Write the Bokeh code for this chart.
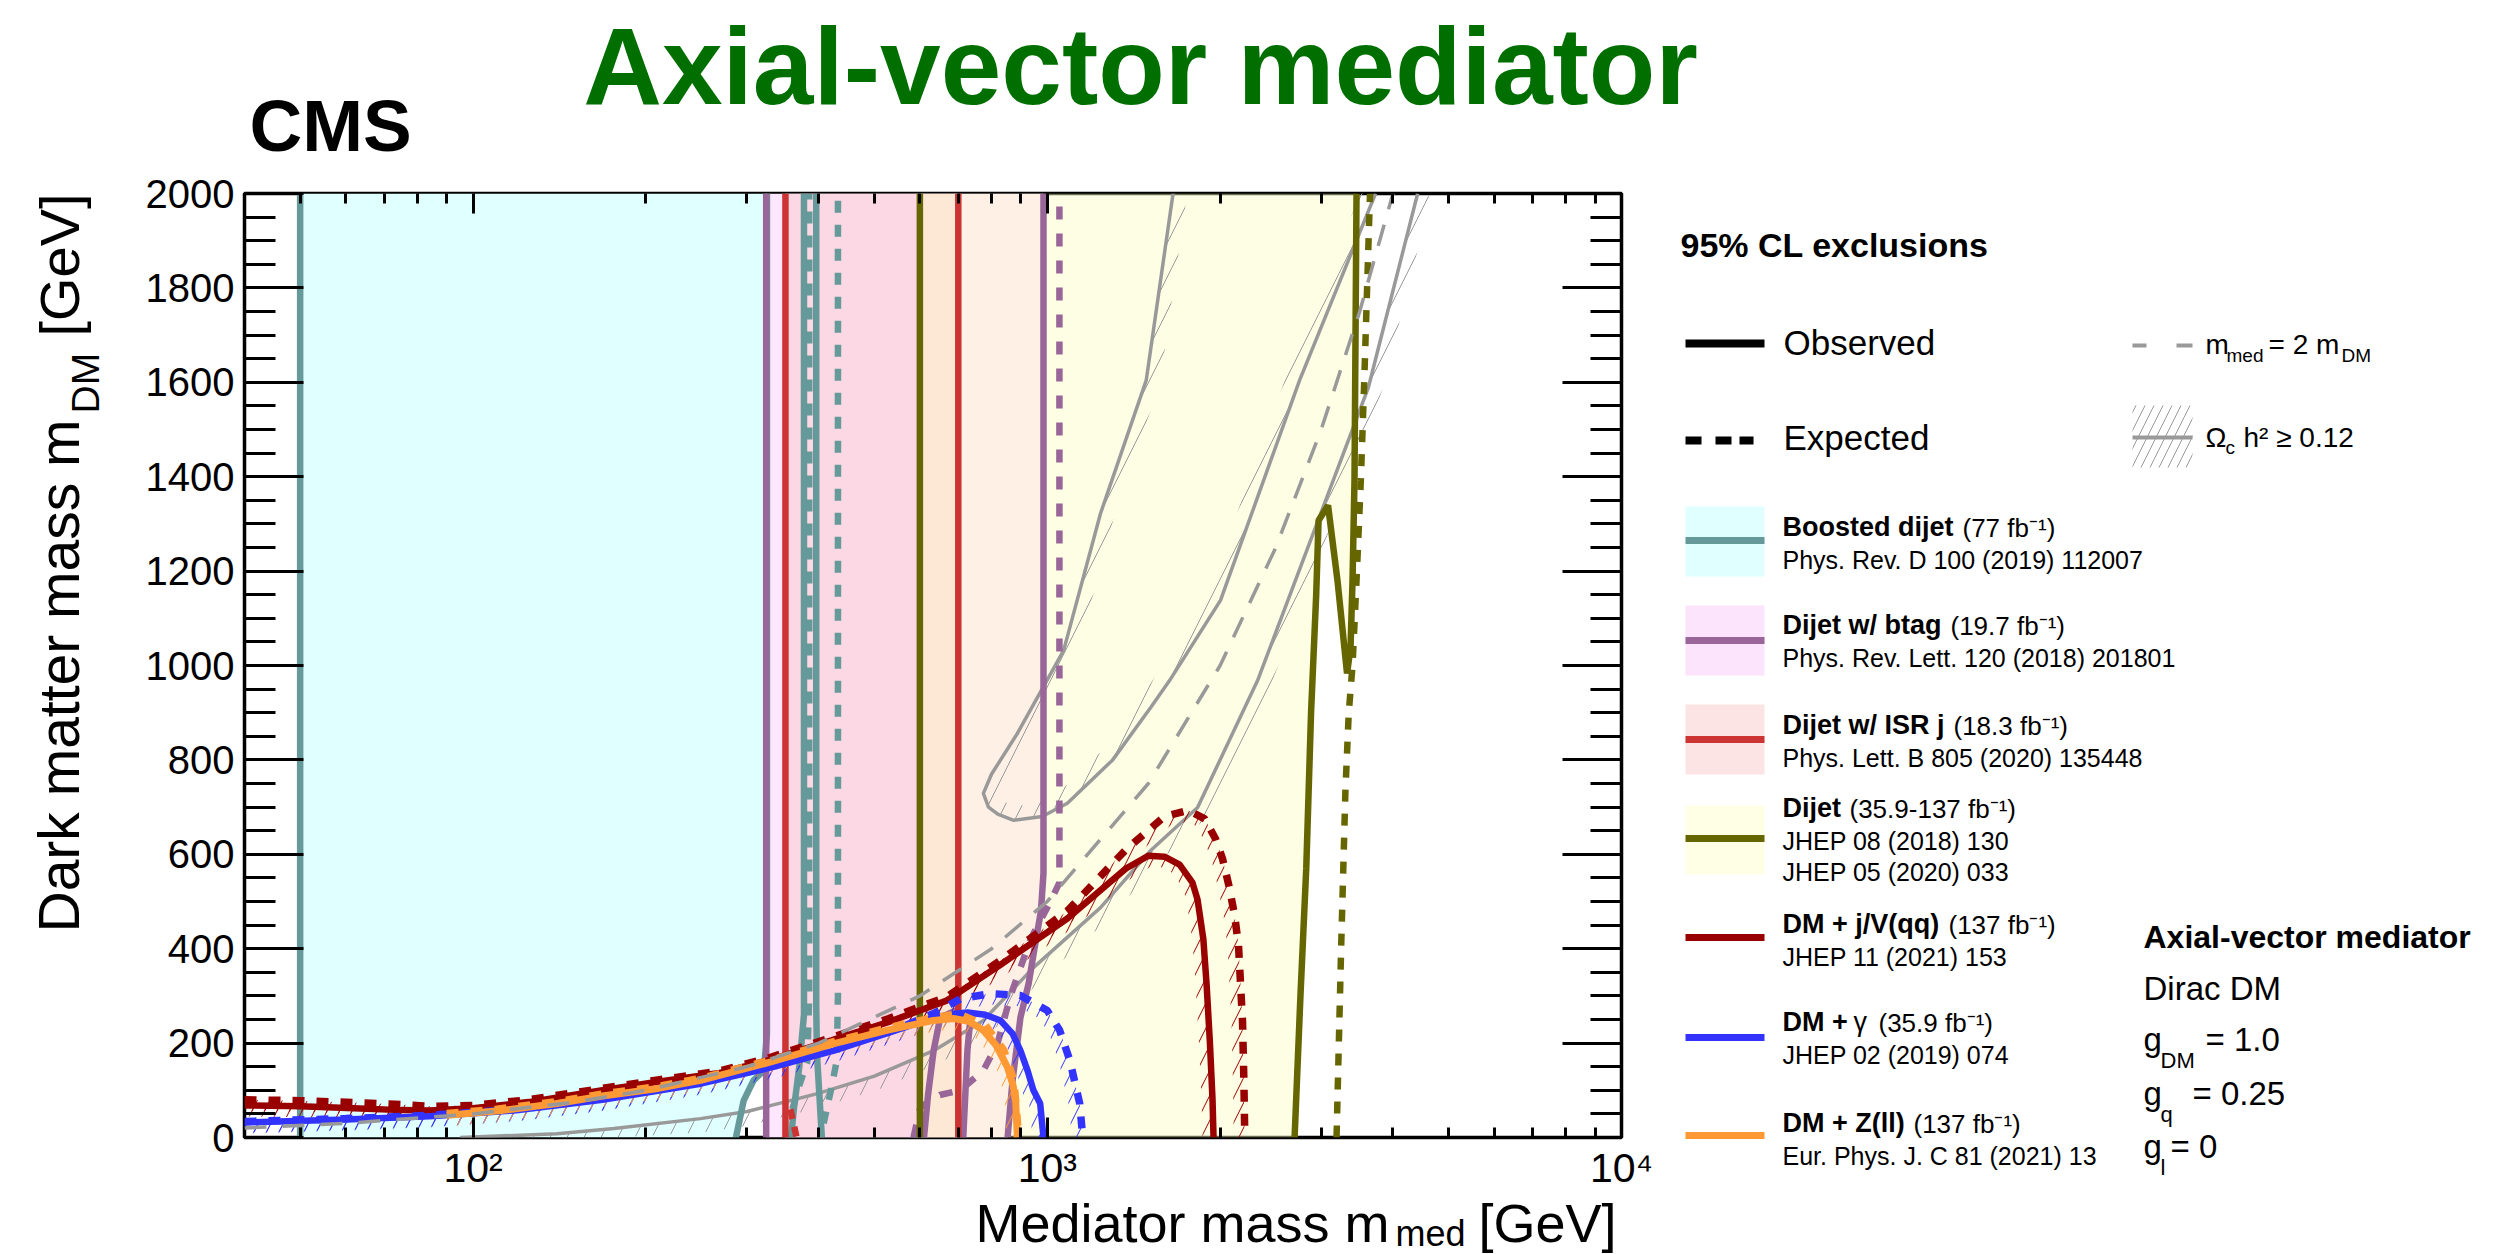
import numpy as np
from bokeh.plotting import figure
from bokeh.layouts import row, column
from bokeh.models import FixedTicker, LinearAxis, LogAxis, Range1d
from bokeh.core.properties import value
from bokeh.embed import file_html
from bokeh.resources import INLINE

# ---------------------------------------------------------------
# Axis ranges (GeV)
# ---------------------------------------------------------------
X_RANGE = (40, 10000)
Y_RANGE = (0, 2000)

# ---------------------------------------------------------------
# Boosted dijet (77 fb-1)
# ---------------------------------------------------------------
bd_obs_a_x = [50, 50]
bd_obs_a_y = [0, 2000]
bd_obs_b_x = [287, 296, 308, 321, 325, 325]
bd_obs_b_y = [0, 78, 121, 142, 220, 2000]
bd_obs_c_x = [358, 362, 370, 377, 377]
bd_obs_c_y = [0, 60, 150, 260, 2000]
bd_obs_d_x = [405, 401, 397, 396, 396]
bd_obs_d_y = [0, 90, 180, 280, 2000]
bd_exp_a_x = [360, 370, 382, 385, 385]
bd_exp_a_y = [60, 110, 160, 300, 2000]
bd_exp_b_x = [408, 420, 430, 432, 432]
bd_exp_b_y = [30, 100, 163, 300, 2000]

# ---------------------------------------------------------------
# Dijet w/ btag (19.7 fb-1)
# ---------------------------------------------------------------
bt_obs_left_x = [324, 324]
bt_obs_left_y = [0, 2000]
bt_obs_right_x = [985, 985, 975, 950, 928, 898, 870, 853]
bt_obs_right_y = [2000, 560, 480, 400, 326, 254, 120, 0]
bt_obs_arch_x = [610, 620, 634, 651, 690, 735, 726, 714]
bt_obs_arch_y = [0, 90, 184, 254, 268, 254, 184, 0]
bt_exp_x = [585, 601, 650, 706, 774, 819, 863, 935, 1013, 1050, 1050]
bt_exp_y = [0, 64, 90, 100, 142, 199, 300, 420, 500, 540, 2000]

# ---------------------------------------------------------------
# Dijet w/ ISR j (18.3 fb-1)
# ---------------------------------------------------------------
isr_obs_lo_x = [350, 350]
isr_obs_hi_x = [700, 700]
isr_obs_y = [0, 2000]
isr_exp_x = [357, 366]
isr_exp_y = [60, 0]

# ---------------------------------------------------------------
# Dijet (35.9-137 fb-1)
# ---------------------------------------------------------------
dj_obs_left_x = [600, 600]
dj_obs_left_y = [0, 2000]
dj_obs_right_x = [2696, 2760, 2825, 2880, 2940, 2968, 3083, 3202, 3327, 3374, 3401, 3428, 3456]
dj_obs_right_y = [0, 300, 570, 900, 1150, 1307, 1339, 1180, 983, 1038, 1180, 1392, 2000]
dj_exp_right_x = [3190, 3250, 3305, 3350, 3401, 3456, 3516, 3565, 3648]
dj_exp_right_y = [0, 407, 733, 900, 1000, 1180, 1392, 1604, 2000]

# ---------------------------------------------------------------
# DM + j/V(qq) (137 fb-1)
# ---------------------------------------------------------------
dmj_obs_x = [40, 50, 62, 75, 84, 100, 125, 168, 210, 267, 330, 421, 530, 668, 829, 1084,
             1371, 1500, 1600, 1700, 1790, 1827, 1870, 1894, 1920, 1940, 1948]
dmj_obs_y = [68, 66, 62, 58, 57, 62, 75, 100, 118, 136, 165, 206, 245, 290, 366, 464,
             570, 597, 595, 578, 540, 504, 420, 326, 200, 80, 0]
dmj_exp_x = [40, 50, 62, 75, 84, 100, 125, 168, 210, 267, 330, 421, 530, 668, 829, 1084,
             1371, 1600, 1762, 1880, 1963, 2020, 2075, 2120, 2153, 2188, 2200, 2208]
dmj_exp_y = [80, 78, 74, 70, 66, 68, 80, 104, 122, 140, 170, 212, 252, 298, 375, 480,
             610, 680, 693, 675, 633, 590, 530, 470, 407, 246, 120, 0]

# ---------------------------------------------------------------
# DM + gamma (35.9 fb-1)
# ---------------------------------------------------------------
dmg_obs_x = [40, 60, 84, 120, 168, 249, 335, 425, 530, 634, 690, 726, 780, 829, 870, 898,
             925, 946, 972, 985]
dmg_obs_y = [32, 38, 45, 58, 80, 114, 150, 184, 222, 254, 262, 265, 260, 248, 220, 184,
             140, 100, 72, 0]
dmg_exp_x = [40, 60, 84, 120, 168, 249, 335, 425, 556, 640, 706, 796, 898, 1000, 1051,
             1095, 1139, 1153]
dmg_exp_y = [34, 40, 47, 60, 82, 117, 154, 190, 233, 265, 294, 305, 301, 269, 227,
             163, 72, 0]

# ---------------------------------------------------------------
# DM + Z(ll) (137 fb-1)
# ---------------------------------------------------------------
dmz_obs_x = [90, 110, 140, 168, 210, 249, 330, 425, 530, 634, 687, 730, 774, 815, 853,
             872, 881, 887]
dmz_obs_y = [47, 56, 72, 88, 104, 121, 160, 199, 228, 248, 252, 246, 227, 195, 148,
             110, 78, 0]
dmz_exp_x = [90, 110, 140, 168, 210, 249, 330, 425, 530, 634, 700, 780, 840, 875, 892]
dmz_exp_y = [51, 60, 76, 92, 108, 125, 164, 203, 233, 254, 262, 238, 185, 120, 0]

# ---------------------------------------------------------------
# Relic density contours (Omega_c h^2 = 0.12)
# ---------------------------------------------------------------
relic_low_x = [95, 140, 176, 249, 300, 398, 500, 634, 774, 946, 1238, 1514, 1827, 2324,
               3626, 4416]
relic_low_y = [0, 8, 19, 40, 55, 93, 130, 184, 248, 360, 487, 608, 699, 968, 1590, 2000]
relic_loop_x = [1656, 1487, 1238, 1068, 887, 800, 774, 790, 820, 874, 980, 1084, 1300,
                1514, 1633, 2003, 2750, 3730]
relic_loop_y = [2000, 1604, 1322, 1032, 856, 770, 729, 700, 685, 672, 680, 708, 800,
                911, 968, 1138, 1604, 2000]

# m_med = 2 m_DM reference line
diag_mmed = [40, 60, 100, 150, 200, 300, 400, 600, 800, 1000, 1500, 2000, 2500, 3000,
             3500, 4000]
diag_mdm = [m / 2.0 for m in diag_mmed]

# ---------------------------------------------------------------
# Colours
# ---------------------------------------------------------------
TEAL = "#669999"
PURPLE = "#996699"
RED = "#cc3333"
OLIVE = "#666600"
DARKRED = "#990000"
BLUE = "#3333ff"
ORANGE = "#ff9933"
GREY = "#999999"

FILL_CYAN = "#e0ffff"
FILL_LAV = "#ffe6ff"
FILL_PINK = "#fcd8e4"
FILL_YEL = "#fdfdc2"
FONT = "Liberation Sans"

# ---------------------------------------------------------------
# Page geometry (canvas pixels)
# ---------------------------------------------------------------
PAGE_W, PAGE_H = 2500, 1254
TH = 170                  # headline strip
LW = 140                  # strip holding the vertical axis title
FL, FT = 244, 193         # frame position on the page
FRAME_W, FRAME_H = 1377, 944
M_TOP = FT - TH
M_LEFT = FL - LW
M_RIGHT = 33
M_BOTTOM = 55
M_W = M_LEFT + FRAME_W + M_RIGHT
M_H = M_TOP + FRAME_H + M_BOTTOM
MID_H = PAGE_H - TH
B_Y0 = TH + M_H
B_H = PAGE_H - B_Y0
R_X0 = LW + M_W
R_W = PAGE_W - R_X0

# ---------------------------------------------------------------
# Main plot
# ---------------------------------------------------------------
p = figure(x_axis_type="log", x_range=X_RANGE, y_range=Y_RANGE,
           frame_width=FRAME_W, frame_height=FRAME_H,
           min_border_left=M_LEFT, min_border_right=M_RIGHT,
           min_border_top=M_TOP, min_border_bottom=M_BOTTOM,
           output_backend="svg", toolbar_location=None)
p.frame_align = False
p.title.visible = False
p.xgrid.visible = False
p.ygrid.visible = False
p.background_fill_color = "white"
p.border_fill_color = "white"
p.outline_line_color = "black"
p.outline_line_width = 3.5

x_major = [100, 1000, 10000]
x_minor = [50, 60, 70, 80, 90] + [k * 100 for k in range(2, 10)] + [k * 1000 for k in range(2, 10)]
y_major = list(range(0, 2001, 200))
y_minor = [v for v in range(0, 2001, 50) if v % 200]


def style_axis(ax, major_len, minor_len):
    ax.axis_line_color = None
    ax.major_tick_in = major_len
    ax.major_tick_out = 0
    ax.minor_tick_in = minor_len
    ax.minor_tick_out = 0
    ax.major_tick_line_width = 3
    ax.minor_tick_line_width = 3
    ax.major_tick_line_color = "black"
    ax.minor_tick_line_color = "black"
    ax.major_label_text_font = FONT
    ax.major_label_text_color = "black"


def hide_labels(ax):
    ax.major_label_text_font_size = "1px"
    ax.major_label_text_alpha = 0
    ax.major_label_standoff = 0


xa = p.xaxis[0]
xa.ticker = FixedTicker(ticks=x_major, minor_ticks=x_minor)
style_axis(xa, 20, 10)
xa.major_label_overrides = {100: "10\u00b2", 1000: "10\u00b3", 10000: "10\u2074"}
xa.major_label_text_font_size = "41px"
xa.major_label_standoff = 7

ya = p.yaxis[0]
ya.ticker = FixedTicker(ticks=y_major, minor_ticks=y_minor)
style_axis(ya, 59, 31)
ya.major_label_text_font_size = "40px"
ya.major_label_standoff = 10

xt = LogAxis(ticker=FixedTicker(ticks=x_major, minor_ticks=x_minor))
style_axis(xt, 20, 10)
hide_labels(xt)
p.add_layout(xt, "above")

yr = LinearAxis(ticker=FixedTicker(ticks=y_major, minor_ticks=y_minor))
style_axis(yr, 59, 31)
hide_labels(yr)
p.add_layout(yr, "right")

# ---------------------------------------------------------------
# Thin band along one side of a contour, used for hatching
# ---------------------------------------------------------------
PX_DEC = FRAME_W / (np.log10(X_RANGE[1]) - np.log10(X_RANGE[0]))
PX_GEV = FRAME_H / (Y_RANGE[1] - Y_RANGE[0])


def hatch_band(xs, ys, side=1, width=12.0):
    u = np.log10(np.asarray(xs, float)) * PX_DEC
    v = np.asarray(ys, float) * PX_GEV
    tu = np.gradient(u)
    tv = np.gradient(v)
    n = np.hypot(tu, tv)
    n[n == 0] = 1.0
    nu, nv = tv / n, -tu / n
    u2 = u + side * width * nu
    v2 = np.clip(v + side * width * nv, 0, None)
    bx = np.concatenate([10 ** (u / PX_DEC), (10 ** (u2 / PX_DEC))[::-1]])
    by = np.concatenate([v / PX_GEV, (v2 / PX_GEV)[::-1]])
    return bx, by


def hatched(xs, ys, color, side=1, width=12.0, scale=25, weight=1.0):
    bx, by = hatch_band(xs, ys, side, width)
    p.patch(bx, by, fill_alpha=0, line_alpha=0, hatch_pattern="/",
            hatch_color=color, hatch_scale=scale, hatch_weight=weight)


# ---------------------------------------------------------------
# Excluded regions (filled)
# ---------------------------------------------------------------
p.patch(bd_obs_a_x + bd_obs_b_x[::-1], bd_obs_a_y + bd_obs_b_y[::-1],
        fill_color=FILL_CYAN, line_color=None)
p.patch(bt_obs_left_x + bt_obs_right_x, bt_obs_left_y + bt_obs_right_y,
        fill_color=FILL_LAV, line_color=None)
p.patch(isr_obs_lo_x + isr_obs_hi_x, isr_obs_y + isr_obs_y[::-1],
        fill_color=FILL_PINK, line_color=None)
p.patch(dj_obs_left_x + dj_obs_right_x[::-1], dj_obs_left_y + dj_obs_right_y[::-1],
        fill_color=FILL_YEL, fill_alpha=0.44, line_color=None)

# ---------------------------------------------------------------
# Relic density lines with hatching
# ---------------------------------------------------------------
hatched(relic_low_x, relic_low_y, GREY, side=1, width=14, scale=34)
hatched(relic_loop_x, relic_loop_y, GREY, side=-1, width=14, scale=34)
p.line(relic_low_x, relic_low_y, line_color=GREY, line_width=3.5)
p.line(relic_loop_x, relic_loop_y, line_color=GREY, line_width=3.5)

# ---------------------------------------------------------------
# Resonance searches
# ---------------------------------------------------------------
W = 6.5
DASH = "12 12"
for xs, ys in [(bd_obs_a_x, bd_obs_a_y), (bd_obs_b_x, bd_obs_b_y),
               (bd_obs_c_x, bd_obs_c_y), (bd_obs_d_x, bd_obs_d_y)]:
    p.line(xs, ys, line_color=TEAL, line_width=W)
for xs, ys in [(bd_exp_a_x, bd_exp_a_y), (bd_exp_b_x, bd_exp_b_y)]:
    p.line(xs, ys, line_color=TEAL, line_width=W, line_dash=DASH)

p.line(bt_obs_left_x, bt_obs_left_y, line_color=PURPLE, line_width=W)
p.line(bt_obs_right_x, bt_obs_right_y, line_color=PURPLE, line_width=W)
p.line(bt_obs_arch_x, bt_obs_arch_y, line_color=PURPLE, line_width=W)
p.line(bt_exp_x, bt_exp_y, line_color=PURPLE, line_width=W, line_dash="13 14")

p.line(isr_obs_lo_x, isr_obs_y, line_color=RED, line_width=W)
p.line(isr_obs_hi_x, isr_obs_y, line_color=RED, line_width=W)
p.line(isr_exp_x, isr_exp_y, line_color=RED, line_width=W, line_dash="10 8")

p.line(dj_obs_left_x, dj_obs_left_y, line_color=OLIVE, line_width=W)
p.line(dj_obs_right_x, dj_obs_right_y, line_color=OLIVE, line_width=W)
p.line(dj_exp_right_x, dj_exp_right_y, line_color=OLIVE, line_width=W, line_dash=DASH)

# ---------------------------------------------------------------
# Mono-X searches (hatching towards the excluded side)
# ---------------------------------------------------------------
for xs, ys, c in [(dmj_obs_x, dmj_obs_y, DARKRED), (dmj_exp_x, dmj_exp_y, DARKRED),
                  (dmg_obs_x, dmg_obs_y, BLUE), (dmg_exp_x, dmg_exp_y, BLUE),
                  (dmz_obs_x, dmz_obs_y, ORANGE)]:
    hatched(xs, ys, c, side=1, width=11, scale=25, weight=1.0)

p.line(dmj_exp_x, dmj_exp_y, line_color=DARKRED, line_width=7.5, line_dash=DASH)
p.line(dmj_obs_x, dmj_obs_y, line_color=DARKRED, line_width=6.5)
p.line(dmg_exp_x, dmg_exp_y, line_color=BLUE, line_width=7.5, line_dash=DASH)
p.line(dmg_obs_x, dmg_obs_y, line_color=BLUE, line_width=6.5)
p.line(dmz_exp_x, dmz_exp_y, line_color=ORANGE, line_width=7.5, line_dash=DASH)
p.line(dmz_obs_x, dmz_obs_y, line_color=ORANGE, line_width=7)

# m_med = 2 m_DM
p.line(diag_mmed, diag_mdm, line_color=GREY, line_width=3.5, line_dash="22 16")


# ---------------------------------------------------------------
# Decoration panels: ranges expressed in page pixels (y downwards)
# ---------------------------------------------------------------
def panel(x0, y0, w, h):
    f = figure(width=w, height=h, x_range=Range1d(x0, x0 + w), y_range=Range1d(y0 + h, y0),
               min_border=0, x_axis_location=None, y_axis_location=None,
               output_backend="svg", toolbar_location=None)
    f.frame_align = False
    f.title.visible = False
    f.xgrid.visible = False
    f.ygrid.visible = False
    f.outline_line_color = None
    f.background_fill_color = "white"
    f.border_fill_color = "white"
    return f


BASE_SHIFT = 0.38   # text anchor sits this fraction of the font size above the baseline


def txt(f, X, Y, s, size, bold=False, color="black", align="left", angle=0.0):
    # (X, Y) is the baseline start of the string on the page
    off = BASE_SHIFT * size
    if angle:
        ax_, ay_ = X - off, Y
    else:
        ax_, ay_ = X, Y - off
    f.text(x=[ax_], y=[ay_], text=[s], text_font=value(FONT),
           text_font_size=value(f"{size}px"),
           text_font_style=value("bold" if bold else "normal"),
           text_color=color, text_align=value(align),
           text_baseline=value("alphabetic"), angle=angle)


def box(f, X1, Y1, X2, Y2, color, **kw):
    opts = dict(fill_color=color, line_color=None)
    opts.update(kw)
    f.quad(left=[X1], right=[X2], top=[Y1], bottom=[Y2], **opts)


top = panel(0, 0, PAGE_W, TH)
left = panel(0, TH, LW, MID_H)
bottom = panel(LW, B_Y0, M_W, B_H)
right = panel(R_X0, TH, R_W, MID_H)

# headline
txt(top, 1140, 107, "Axial-vector mediator", 109, bold=True, color="#006f00", align="center")
txt(top, 249, 153, "CMS", 73, bold=True)

# axis titles
txt(left, 80, 932, "Dark matter mass m", 57, angle=np.pi / 2)
txt(left, 100, 413, "DM", 39, angle=np.pi / 2)
txt(left, 80, 336, "[GeV]", 56, angle=np.pi / 2)
txt(bottom, 975, 1242, "Mediator mass m", 54)
txt(bottom, 1395, 1246, "med", 36)
txt(bottom, 1478, 1242, "[GeV]", 54)

# legend header
txt(right, 1680, 257, "95% CL exclusions", 34, bold=True)
box(right, 1685, 339, 1764, 347, "black")
txt(right, 1783, 355, "Observed", 35)
for a, b in [(1685, 1701), (1715, 1731), (1739, 1753)]:
    box(right, a, 436, b, 444, "black")
txt(right, 1783, 450, "Expected", 35)

for a, b in [(2132, 2146), (2176, 2192)]:
    box(right, a, 343, b, 347, GREY)
txt(right, 2205, 355, "m", 28)
txt(right, 2226, 362, "med", 19)
txt(right, 2268, 355, "= 2 m", 28)
txt(right, 2341, 362, "DM", 19)

box(right, 2132, 405, 2192, 467, "white", fill_alpha=0, hatch_pattern="/",
    hatch_color=GREY, hatch_scale=18, hatch_weight=1)
box(right, 2132, 435, 2192, 439, GREY)
txt(right, 2205, 448, "\u03a9", 28)
txt(right, 2225, 454, "c", 19)
txt(right, 2243, 448, "h\u00b2 \u2265 0.12", 28)

# legend entries
entries = [
    (506, 576, 540, TEAL, "#e0ffff", "Boosted dijet", 1962, "(77 fb\u207b\u00b9)",
     ["Phys. Rev. D 100 (2019) 112007"], 537),
    (605, 675, 640, PURPLE, "#fde4fd", "Dijet w/ btag", 1950, "(19.7 fb\u207b\u00b9)",
     ["Phys. Rev. Lett. 120 (2018) 201801"], 635),
    (704, 774, 739, RED, "#fde4e4", "Dijet w/ ISR j", 1953, "(18.3 fb\u207b\u00b9)",
     ["Phys. Lett. B 805 (2020) 135448"], 735),
    (805, 874, 838, OLIVE, "#ffffe6", "Dijet", 1849, "(35.9-137 fb\u207b\u00b9)",
     ["JHEP 08 (2018) 130", "JHEP 05 (2020) 033"], 818),
    (None, None, 937, DARKRED, None, "DM + j/V(qq)", 1948, "(137 fb\u207b\u00b9)",
     ["JHEP 11 (2021) 153"], 934),
    (None, None, 1037, BLUE, None, "DM +", 1878, "(35.9 fb\u207b\u00b9)",
     ["JHEP 02 (2019) 074"], 1032),
    (None, None, 1135, ORANGE, None, "DM + Z(ll)", 1913, "(137 fb\u207b\u00b9)",
     ["Eur. Phys. J. C 81 (2021) 13"], 1133),
]
for ytop, ybot, ly, col, fill, name, lx, lumi, refs, base in entries:
    if fill is not None:
        box(right, 1685, ytop, 1764, ybot, fill)
    box(right, 1685, ly - 3.5, 1764, ly + 3.5, col)
    txt(right, 1782, base, name, 27, bold=True)
    txt(right, lx, base, lumi, 26)
    for i, r in enumerate(refs):
        txt(right, 1782, base + 32 * (i + 1) - (1 if i else 0), r, 25)
txt(right, 1853, 1032, "\u03b3", 27)

# model parameters
txt(right, 2143, 949, "Axial-vector mediator", 32, bold=True)
txt(right, 2143, 1001, "Dirac DM", 33)
txt(right, 2143, 1052, "g", 33)
txt(right, 2160, 1068, "DM", 22)
txt(right, 2205, 1052, "= 1.0", 33)
txt(right, 2143, 1106, "g", 33)
txt(right, 2160, 1122, "q", 22)
txt(right, 2192, 1106, "= 0.25", 33)
txt(right, 2143, 1159, "g", 33)
txt(right, 2160, 1175, "l", 22)
txt(right, 2170, 1159, "= 0", 33)

page = column(top, row(left, column(p, bottom), right))
open("out.html", "w").write(file_html(page, INLINE))
